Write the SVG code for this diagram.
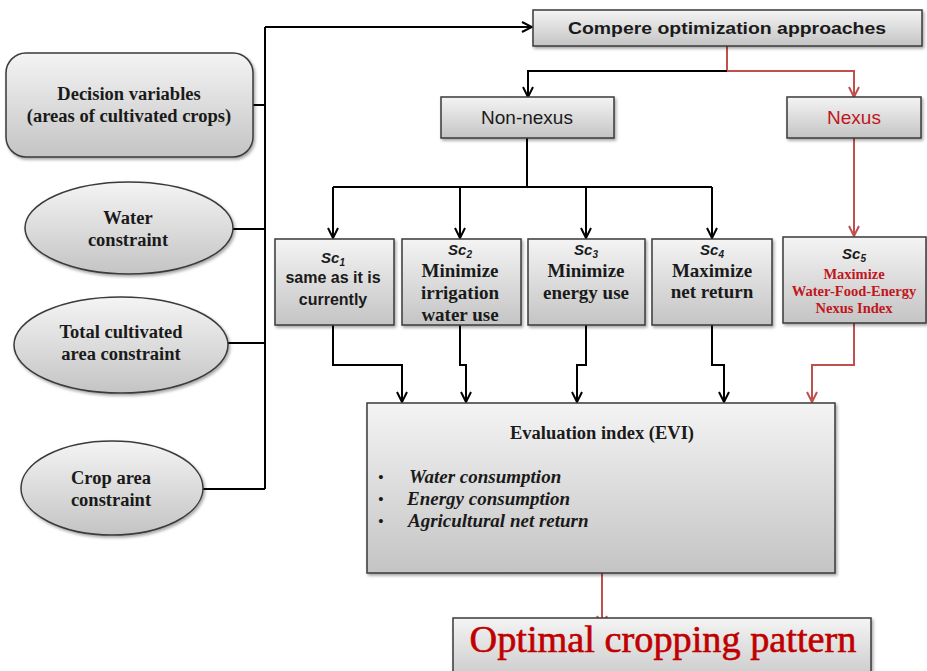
<svg xmlns="http://www.w3.org/2000/svg" width="927" height="671" viewBox="0 0 927 671">
<style>
.box{fill:url(#g);stroke:#3a3a3a;stroke-width:1.5;filter:url(#sh)}
.ser{font-family:"Liberation Serif",serif;font-weight:bold;fill:#1a1a1a;text-anchor:middle}
.san{font-family:"Liberation Sans",Arial,sans-serif;fill:#1a1a1a;text-anchor:middle}
.sc{font-family:"Liberation Sans",Arial,sans-serif;font-style:italic;font-weight:bold;font-size:15px;fill:#1a1a1a;text-anchor:middle}
.red{fill:#c0161d}
.k{fill:none;stroke:#000;stroke-width:2}
.r{fill:none;stroke:#c0504d;stroke-width:2}
.it{font-family:"Liberation Serif",serif;font-weight:bold;font-style:italic;font-size:19px;fill:#1a1a1a}
</style>
<defs>
<linearGradient id="g" x1="0" y1="0" x2="0" y2="1">
<stop offset="0" stop-color="#f4f4f4"/>
<stop offset="1" stop-color="#c4c4c4"/>
</linearGradient>
<filter id="sh" x="-10%" y="-10%" width="120%" height="130%">
<feDropShadow dx="1.5" dy="2" stdDeviation="1.5" flood-color="#000" flood-opacity="0.35"/>
</filter>
<marker id="ak" viewBox="0 0 12 12" refX="11" refY="6" markerWidth="12" markerHeight="12" markerUnits="userSpaceOnUse" orient="auto">
<path d="M1,1 L11,6 L1,11" fill="none" stroke="#000" stroke-width="2"/>
</marker>
<marker id="ar" viewBox="0 0 12 12" refX="11" refY="6" markerWidth="12" markerHeight="12" markerUnits="userSpaceOnUse" orient="auto">
<path d="M1,1 L11,6 L1,11" fill="none" stroke="#c0504d" stroke-width="2"/>
</marker>
</defs>

<g id="connectors">
<path class="k" d="M265,27 V343" stroke-width="2.5"/>
<path class="k" d="M265,343 V489" stroke-width="1.5"/>
<path class="k" d="M253,105 H265" stroke-width="1.5"/>
<path class="k" d="M233,229 H265" stroke-width="1.5"/>
<path class="k" d="M228,343 H265" stroke-width="1.5"/>
<path class="k" d="M203,489 H265" stroke-width="1.5"/>
<path class="k" d="M265,27 H532" marker-end="url(#ak)"/>
<path class="r" d="M727,46 V71"/>
<path class="k" d="M727,71 H528 V97" marker-end="url(#ak)"/>
<path class="r" d="M727,71 H854 V97" marker-end="url(#ar)"/>
<path class="k" d="M527,138 V187"/>
<path class="k" d="M333,187 H712"/>
<path class="k" d="M333,187 V238" marker-end="url(#ak)"/>
<path class="k" d="M460,187 V238" marker-end="url(#ak)"/>
<path class="k" d="M586,187 V238" marker-end="url(#ak)"/>
<path class="k" d="M712,187 V238" marker-end="url(#ak)"/>
<path class="r" d="M854,138 V236" marker-end="url(#ar)"/>
<path class="k" d="M333,325 V365 H402 V402" marker-end="url(#ak)"/>
<path class="k" d="M460,325 V365 H466 V402" marker-end="url(#ak)"/>
<path class="k" d="M586,325 V365 H577 V402" marker-end="url(#ak)"/>
<path class="k" d="M712,325 V365 H724 V402" marker-end="url(#ak)"/>
<path class="r" d="M854,323 V365 H812 V402" marker-end="url(#ar)"/>
<path class="r" d="M602,573 V626" marker-end="url(#ar)"/>
</g>

<g id="decision">
<rect class="box" x="6" y="53" width="247" height="104" rx="20"/>
<text class="ser" x="129" y="100" font-size="18.5">Decision variables</text>
<text class="ser" x="129" y="122" font-size="18.5">(areas of cultivated crops)</text>
</g>
<g id="water">
<ellipse class="box" cx="129" cy="228" rx="104" ry="46"/>
<text class="ser" x="128" y="224" font-size="18.5">Water</text>
<text class="ser" x="128" y="246" font-size="18.5">constraint</text>
</g>
<g id="total">
<ellipse class="box" cx="121" cy="345" rx="107" ry="48"/>
<text class="ser" x="121" y="338" font-size="18.5">Total cultivated</text>
<text class="ser" x="121" y="360" font-size="18.5">area constraint</text>
</g>
<g id="croparea">
<ellipse class="box" cx="112" cy="488" rx="91" ry="47"/>
<text class="ser" x="111" y="484" font-size="18.5">Crop area</text>
<text class="ser" x="111" y="506" font-size="18.5">constraint</text>
</g>

<g id="compere">
<rect class="box" x="533" y="10" width="389" height="36"/>
<text class="san" x="727" y="34" font-size="17" font-weight="bold" textLength="318" lengthAdjust="spacingAndGlyphs">Compere optimization approaches</text>
</g>
<g id="nonnexus">
<rect class="box" x="441" y="97" width="173" height="41"/>
<text class="san" x="527" y="124" font-size="19">Non-nexus</text>
</g>
<g id="nexus">
<rect class="box" x="787" y="97" width="134" height="41"/>
<text class="san red" x="854" y="124" font-size="19">Nexus</text>
</g>

<g id="sc1">
<rect class="box" x="275" y="239" width="119" height="86"/>
<text class="sc" x="333" y="263">Sc<tspan font-size="10" dy="3">1</tspan></text>
<text class="san" x="333" y="283" font-size="16" font-weight="bold">same as it is</text>
<text class="san" x="333" y="305" font-size="16" font-weight="bold">currently</text>
</g>
<g id="sc2">
<rect class="box" x="402" y="239" width="119" height="86"/>
<text class="sc" x="460" y="255">Sc<tspan font-size="10" dy="3">2</tspan></text>
<text class="ser" x="460" y="277" font-size="19">Minimize</text>
<text class="ser" x="460" y="299" font-size="19">irrigation</text>
<text class="ser" x="460" y="321" font-size="19">water use</text>
</g>
<g id="sc3">
<rect class="box" x="528" y="239" width="117" height="86"/>
<text class="sc" x="586" y="255">Sc<tspan font-size="10" dy="3">3</tspan></text>
<text class="ser" x="586" y="277" font-size="19">Minimize</text>
<text class="ser" x="586" y="299" font-size="19">energy use</text>
</g>
<g id="sc4">
<rect class="box" x="652" y="239" width="120" height="86"/>
<text class="sc" x="712" y="255">Sc<tspan font-size="10" dy="3">4</tspan></text>
<text class="ser" x="712" y="277" font-size="19">Maximize</text>
<text class="ser" x="712" y="298" font-size="19">net return</text>
</g>
<g id="sc5">
<rect class="box" x="783" y="237" width="143" height="86"/>
<text class="sc" x="854" y="259">Sc<tspan font-size="10" dy="3">5</tspan></text>
<text class="ser red" x="854" y="279" font-size="14.5">Maximize</text>
<text class="ser red" x="854" y="296" font-size="14.5">Water-Food-Energy</text>
<text class="ser red" x="854" y="313" font-size="14.5">Nexus Index</text>
</g>

<g id="evi">
<rect class="box" x="367" y="403" width="468" height="170"/>
<text class="ser" x="602" y="439" font-size="18.5">Evaluation index (EVI)</text>
<text class="ser" x="381" y="482" font-size="15">•</text>
<text class="ser" x="381" y="504" font-size="15">•</text>
<text class="ser" x="381" y="526" font-size="15">•</text>
<text class="it" x="409" y="483">Water consumption</text>
<text class="it" x="407" y="505">Energy consumption</text>
<text class="it" x="408" y="527">Agricultural  net return</text>
</g>

<g id="optimal">
<rect class="box" x="453" y="618" width="418" height="70"/>
<text x="663" y="652" font-family="Liberation Serif,serif" font-size="38" fill="#c00000" stroke="#c00000" stroke-width="0.6" text-anchor="middle" textLength="387" lengthAdjust="spacingAndGlyphs">Optimal cropping pattern</text>
</g>
</svg>
